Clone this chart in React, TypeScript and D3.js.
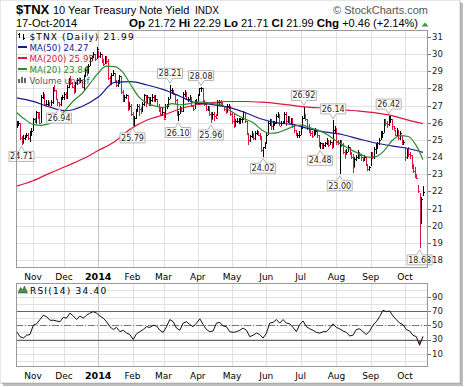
import * as d3 from 'd3';

// daily bars, $TNX (yield x 10), 18-Oct-2013 .. 17-Oct-2014
const high = [
  26.1, 26.1, 26.0, 25.2, 25.3, 25.3, 25.4, 25.4, 25.5, 25.7,
  26.3, 26.3, 26.7, 26.6, 26.6, 27.6, 27.8, 27.7, 27.3, 27.3,
  27.2, 27.3, 28.1, 28.2, 27.9, 27.4, 27.2, 27.5, 27.6, 27.8,
  27.8, 28.2, 28.6, 28.7, 28.4, 28.2, 28.4, 28.6, 28.6, 28.6,
  28.5, 28.8, 29.2, 29.3, 29.4, 29.8, 29.9, 30.1, 30.0, 30.4,
  30.2, 30.1, 30.0, 29.7, 29.9, 29.9, 29.7, 28.7, 28.9, 29.1,
  28.9, 28.5, 28.5, 28.8, 28.7, 27.9, 27.6, 27.7, 27.6, 27.2,
  27.1, 26.6, 26.4, 26.8, 27.1, 27.1, 26.9, 27.2, 27.7, 27.6,
  27.6, 27.5, 27.5, 27.7, 27.6, 27.6, 27.4, 27.1, 26.9, 26.9,
  26.6, 27.1, 27.1, 27.5, 28.21, 28.0, 27.9, 27.7, 27.4, 26.7,
  27.0, 26.9, 27.8, 27.9, 27.8, 27.5, 27.6, 27.5, 27.0, 27.3,
  27.4, 27.7, 28.0, 28.08, 28.0, 27.3, 27.2, 27.0, 27.0, 26.6,
  26.6, 26.6, 26.5, 27.3, 27.3, 27.3, 27.2, 27.0, 26.9, 27.1,
  27.1, 27.0, 26.6, 26.5, 26.2, 26.3, 26.3, 26.3, 26.3, 26.7,
  26.6, 26.1, 25.4, 25.3, 25.5, 25.4, 25.5, 25.6, 25.5, 25.4,
  25.2, 24.6, 24.9, 25.4, 26.1, 26.2, 26.2, 26.1, 26.1, 26.5,
  26.6, 26.5, 26.1, 26.1, 26.6, 26.6, 26.4, 26.4, 26.3, 26.3,
  25.9, 25.6, 25.4, 25.5, 25.8, 26.4, 26.92, 26.5, 26.2, 25.9,
  25.6, 25.5, 25.6, 25.7, 25.5, 25.3, 24.9, 24.8, 24.8, 24.9,
  25.1, 25.0, 25.0, 24.9, 26.14, 25.8, 25.7, 25.0, 25.0, 25.0,
  24.8, 24.4, 24.5, 24.7, 24.6, 24.3, 24.2, 24.0, 24.1, 24.4,
  24.3, 24.2, 24.0, 24.1, 24.0, 23.6, 23.5, 24.3, 24.3, 24.6,
  24.8, 24.9, 25.1, 25.5, 25.5, 26.2, 26.2, 26.1, 26.42, 26.4,
  26.2, 25.8, 25.6, 25.7, 25.6, 25.5, 25.3, 25.0, 24.6, 24.5,
  24.6, 24.3, 24.1, 23.6, 23.4, 23.0, 22.4, 21.9, 21.7, 22.29,
];
const low = [
  25.7, 25.8, 25.0, 24.71, 24.8, 25.0, 25.1, 25.0, 24.9, 25.3,
  25.5, 26.0, 26.0, 26.2, 25.9, 26.0, 27.4, 27.0, 27.0, 27.0,
  26.98, 27.0, 27.1, 27.8, 27.3, 27.0, 26.94, 27.0, 27.3, 27.3,
  27.4, 27.4, 28.0, 28.2, 28.0, 27.7, 27.8, 28.2, 28.3, 28.3,
  28.0, 27.9, 28.7, 28.7, 28.9, 29.3, 29.6, 29.8, 29.6, 29.7,
  29.8, 29.8, 29.5, 29.3, 29.4, 29.4, 28.5, 28.2, 28.2, 28.7,
  28.3, 28.1, 28.1, 28.3, 27.7, 27.2, 27.2, 27.4, 26.7, 26.8,
  26.4, 25.79, 25.8, 26.2, 26.6, 26.4, 26.5, 26.6, 27.0, 26.9,
  27.1, 27.0, 27.0, 27.2, 27.2, 27.2, 26.9, 26.6, 26.4, 26.4,
  26.15, 26.3, 26.8, 27.0, 27.4, 27.7, 27.6, 27.1, 26.4, 26.10,
  26.5, 26.6, 26.6, 27.5, 27.3, 27.2, 27.3, 26.9, 26.7, 26.8,
  27.1, 27.2, 27.6, 27.8, 27.1, 27.0, 26.7, 26.7, 26.4, 25.96,
  26.2, 26.1, 26.2, 26.4, 27.0, 27.0, 26.9, 26.7, 26.5, 26.6,
  26.8, 26.4, 25.9, 25.7, 25.8, 26.0, 25.9, 25.9, 26.0, 26.2,
  26.0, 25.3, 24.7, 24.9, 25.1, 25.0, 25.0, 25.3, 25.2, 25.0,
  24.3, 24.02, 24.5, 24.8, 25.3, 25.8, 25.6, 25.6, 25.8, 25.9,
  26.3, 25.8, 25.8, 25.9, 25.9, 25.8, 26.0, 25.9, 25.9, 25.7,
  25.4, 25.2, 25.1, 25.1, 25.3, 25.7, 26.2, 26.1, 25.6, 25.4,
  25.2, 25.1, 25.2, 25.3, 25.1, 24.6, 24.48, 24.5, 24.5, 24.6,
  24.7, 24.6, 24.7, 24.5, 24.6, 25.4, 24.7, 24.7, 23.00, 24.6,
  24.2, 23.9, 24.2, 24.3, 24.1, 23.9, 23.05, 23.4, 23.8, 23.9,
  23.9, 23.8, 23.7, 23.8, 23.5, 23.2, 23.2, 23.5, 23.9, 23.9,
  24.2, 24.5, 24.7, 25.0, 25.1, 25.4, 25.8, 25.7, 25.8, 26.0,
  25.6, 25.5, 25.2, 25.2, 25.0, 25.0, 24.7, 24.7, 23.8, 23.9,
  24.0, 23.9, 23.3, 23.1, 22.8, 22.7, 21.9, 18.68, 20.1, 21.71,
];
const close = [
  25.9, 26.0, 25.1, 24.8, 25.1, 25.2, 25.3, 25.1, 25.3, 25.5,
  26.2, 26.0, 26.6, 26.4, 26.0, 27.5, 27.7, 27.1, 27.1, 27.2,
  27.0, 27.2, 28.0, 27.9, 27.4, 27.2, 27.1, 27.4, 27.5, 27.7,
  27.5, 28.1, 28.5, 28.3, 28.1, 27.8, 28.3, 28.5, 28.4, 28.5,
  28.1, 28.7, 29.1, 28.9, 29.3, 29.8, 29.9, 30.0, 29.7, 30.3,
  29.9, 30.0, 29.6, 29.4, 29.8, 29.6, 28.6, 28.3, 28.8, 28.9,
  28.4, 28.2, 28.3, 28.7, 27.8, 27.3, 27.5, 27.6, 26.8, 27.0,
  26.5, 25.8, 26.3, 26.7, 27.0, 26.8, 26.7, 27.1, 27.6, 27.3,
  27.5, 27.1, 27.3, 27.5, 27.3, 27.4, 27.0, 26.7, 26.5, 26.6,
  26.2, 27.0, 27.0, 27.4, 27.9, 27.9, 27.7, 27.3, 26.5, 26.5,
  26.9, 26.7, 27.7, 27.8, 27.4, 27.4, 27.5, 27.0, 26.8, 27.2,
  27.2, 27.6, 28.0, 28.0, 27.2, 27.1, 26.8, 26.9, 26.5, 26.2,
  26.5, 26.4, 26.3, 27.2, 27.2, 27.1, 27.0, 26.8, 26.6, 27.0,
  27.0, 26.5, 26.1, 25.8, 26.1, 26.1, 26.1, 26.2, 26.2, 26.6,
  26.1, 25.4, 25.0, 25.2, 25.4, 25.1, 25.4, 25.5, 25.3, 25.2,
  24.4, 24.6, 24.8, 25.3, 26.0, 26.1, 25.8, 25.9, 26.0, 26.4,
  26.5, 25.8, 26.0, 26.0, 26.5, 26.1, 26.3, 26.0, 26.2, 25.8,
  25.6, 25.3, 25.3, 25.3, 25.7, 26.3, 26.5, 26.2, 25.7, 25.5,
  25.4, 25.2, 25.5, 25.5, 25.3, 24.6, 24.8, 24.6, 24.7, 24.8,
  25.0, 24.7, 24.9, 24.6, 25.6, 25.6, 24.9, 24.8, 24.9, 24.7,
  24.3, 24.2, 24.3, 24.6, 24.2, 24.0, 23.4, 23.9, 24.0, 24.3,
  24.1, 24.0, 23.9, 24.0, 23.6, 23.3, 23.4, 24.2, 24.0, 24.5,
  24.6, 24.8, 25.0, 25.4, 25.4, 26.1, 26.0, 25.9, 26.2, 26.2,
  25.8, 25.7, 25.3, 25.6, 25.1, 25.4, 24.8, 24.9, 24.0, 24.3,
  24.2, 24.1, 23.4, 23.2, 22.9, 22.8, 22.0, 21.3, 21.53, 21.99,
];

// moving averages as [bar index, value]
const ma200: [number, number][] = [
  [0, 22.31], [10, 22.62], [20, 23.05], [30, 23.45], [40, 23.87], [50, 24.38],
  [60, 24.9], [70, 25.65], [80, 26.16], [90, 26.45], [100, 26.8], [110, 27.05],
  [120, 27.18], [130, 27.24], [140, 27.24], [150, 27.2], [160, 27.12], [170, 27.0],
  [180, 26.9], [190, 26.85], [200, 26.75], [210, 26.68], [220, 26.58], [230, 26.42],
  [240, 26.15], [249, 25.95],
];
const ma50: [number, number][] = [
  [0, 27.45], [10, 27.25], [20, 26.92], [30, 26.7], [40, 26.95], [50, 27.5],
  [60, 28.35], [70, 28.4], [80, 28.2], [90, 27.93], [100, 27.55], [110, 27.15],
  [120, 27.06], [130, 26.9], [140, 26.6], [150, 26.22], [160, 25.99], [170, 25.89],
  [180, 25.63], [190, 25.45], [200, 25.3], [210, 25.05], [220, 24.82], [230, 24.65],
  [240, 24.5], [249, 24.27],
];
const ma20: [number, number][] = [
  [0, 26.6], [5, 26.2], [10, 25.91], [15, 25.85], [20, 25.95], [25, 26.2],
  [30, 26.75], [35, 27.3], [40, 27.7], [45, 28.3], [50, 28.9], [55, 29.3],
  [60, 29.27], [65, 28.95], [70, 28.2], [75, 27.5], [80, 27.14], [85, 26.97],
  [90, 26.88], [95, 27.12], [100, 27.05], [105, 27.1], [110, 27.2], [115, 27.2],
  [120, 27.12], [125, 27.08], [130, 26.75], [135, 26.45], [140, 26.22], [145, 26.0],
  [150, 25.6], [155, 25.39], [160, 25.43], [165, 25.6], [170, 25.8], [175, 25.86],
  [180, 25.7], [185, 25.56], [190, 25.33], [195, 25.0], [200, 24.7], [205, 24.42],
  [210, 24.2], [215, 24.0], [220, 24.03], [225, 24.35], [230, 24.95], [235, 25.25],
  [240, 25.2], [245, 24.65], [249, 23.85],
];

// RSI(14), evenly spaced from first to last bar
const rsi = [
  41, 34, 32, 36, 37, 50, 52, 58, 64, 62,
  57, 57, 56, 55, 61, 60, 67, 63, 58, 63,
  60, 64, 67, 69, 67, 63, 60, 55, 48, 44,
  47, 41, 43, 39, 37, 30, 38, 41, 44, 48,
  47, 50, 49, 43, 40, 48, 58, 55, 46, 43,
  53, 55, 51, 48, 53, 59, 51, 44, 41, 42,
  53, 54, 49, 48, 41, 40, 41, 43, 46, 43,
  34, 36, 39, 37, 32, 39, 53, 54, 58, 53,
  58, 53, 52, 47, 41, 51, 56, 48, 45, 43,
  40, 39, 41, 41, 46, 52, 47, 45, 42, 40,
  35, 36, 44, 45, 41, 37, 42, 50, 55, 62,
  71, 69, 70, 63, 58, 53, 51, 44, 42, 36,
  34, 22, 34.4,
];

const holidays = [
  '2013-11-11', '2013-11-28', '2013-12-25', '2014-01-01', '2014-01-20', '2014-02-17',
  '2014-04-18', '2014-05-26', '2014-07-04', '2014-09-01', '2014-10-13',
];
const priceTicks = [18, 19, 20, 21, 22, 23, 24, 25, 26, 27, 28, 29, 30, 31];
const rsiGrid = [0, 10, 20, 30, 40, 50, 60, 70, 80, 90, 100];
const rsiTicks = [10, 30, 50, 70, 90];
const calloutHighs = [94, 113, 176, 194, 228];
const calloutLows = [3, 26, 71, 99, 119, 151, 186, 198, 247];

const RED = '#e0143c';
const BLUE = '#1a1a8e';
const GREEN = '#2b8a2b';
const GRID = '#e2e2e2';
const UI = '"DejaVu Sans", Verdana, sans-serif';
const HEAD = '"Liberation Sans", Arial, sans-serif';

const P = { left: 16, right: 428, top: 30, bottom: 268 };
const R = { top: 283, bottom: 367 };

function tradingDays() {
  const off = new Set(holidays);
  const fmt = d3.timeFormat('%Y-%m-%d');
  return d3.timeDay
    .range(new Date(2013, 9, 18), new Date(2014, 9, 18))
    .filter(d => d.getDay() !== 0 && d.getDay() !== 6 && !off.has(fmt(d)));
}

export default function App() {
  const days = tradingDays();
  const n = close.length;

  const x = d3.scaleLinear().domain([-0.4, n + 2.1]).range([P.left, P.right]);
  const y = d3.scaleLinear().domain([18, 31]).range([260, 37]);
  const yr = d3.scaleLinear().domain([0, 100]).range([360.9, 289.6]);
  const xr = d3.scaleLinear().domain([0, rsi.length - 1]).range([x(0), x(n - 1)]);
  const px = (i: number) => Math.round(x(i)) + 0.5;

  const monthTicks = days
    .map((d, i) => ({ d, i }))
    .filter(({ d, i }) => i > 0 && d.getMonth() !== days[i - 1].getMonth())
    .map(({ d, i }) => ({ i, label: d.getMonth() === 0 ? d3.timeFormat('%Y')(d) : d3.timeFormat('%b')(d), bold: d.getMonth() === 0 }));

  const maLine = d3.line<[number, number]>().x(d => x(d[0])).y(d => y(d[1])).curve(d3.curveMonotoneX);
  const rsiLine = d3.line<number>().x((_, k) => xr(k)).y(d => yr(d));
  const rsiArea = d3.area<number>().x((_, k) => xr(k)).y0(yr(30)).y1(d => yr(d));

  const callout = (i: number, kind: 'hi' | 'lo') => {
    const cx = x(i);
    const w = 25, h = 10;
    const l = cx - w / 2, r = cx + w / 2;
    if (kind === 'lo') {
      const ty = y(low[i]) + 1.5;
      const bt = ty + 5;
      return {
        d: `M${l},${bt}H${cx - 3}L${cx},${ty}L${cx + 3},${bt}H${r}V${bt + h}H${l}Z`,
        tx: cx, ty: bt + 8, text: low[i].toFixed(2),
      };
    }
    const ty = y(high[i]) - 1.5;
    const bb = ty - 5;
    return {
      d: `M${l},${bb - h}H${r}V${bb}H${cx + 3}L${cx},${ty}L${cx - 3},${bb}H${l}Z`,
      tx: cx, ty: bb - 2, text: high[i].toFixed(2),
    };
  };
  const callouts = [
    ...calloutHighs.map(i => callout(i, 'hi')),
    ...calloutLows.map(i => callout(i, 'lo')),
  ];

  const legend = [
    { label: 'MA(50) 24.27', color: BLUE, yb: 50.5 },
    { label: 'MA(200) 25.95', color: RED, yb: 61.5 },
    { label: 'MA(20) 23.84', color: GREEN, yb: 72.5 },
  ];

  return (
    <svg width={464} height={387} style={{ position: 'absolute', left: 0, top: 0 }}>
      <defs>
        <clipPath id="pc"><rect x={P.left} y={P.top} width={P.right - P.left} height={P.bottom - P.top} /></clipPath>
        <clipPath id="ob"><rect x={P.left} y={yr(30)} width={P.right - P.left} height={R.bottom - yr(30)} /></clipPath>
      </defs>
      {/* frame + shadow */}
      <rect x={3} y={3} width={460} height={383} fill="#bdbdbd" />
      <rect x={2} y={2} width={459} height={382} fill="#8c8c8c" />
      <rect x={0} y={0} width={460} height={383} fill="#fff" stroke="#cfcfcf" />

      {/* header */}
      <text x={16} y={14} fontFamily={HEAD} fontWeight="bold" fontSize={13}>$TNX</text>
      <text x={53} y={14} fontFamily={HEAD} fontSize={11}>10 Year Treasury Note Yield</text>
      <text x={195} y={14} fontFamily={HEAD} fontSize={10}>INDX</text>
      <text x={428} y={14} fontFamily={HEAD} fontSize={11} fill="#555" textAnchor="end">© StockCharts.com</text>
      <text x={16} y={26.5} fontFamily={HEAD} fontSize={11}>17-Oct-2014</text>
      <text x={418} y={26.5} fontFamily={HEAD} fontSize={11} textAnchor="end">
        <tspan fontWeight="bold" fontSize={11.5}>Op</tspan> 21.72{' '}
        <tspan fontWeight="bold" fontSize={11.5}>Hi</tspan> 22.29{' '}
        <tspan fontWeight="bold" fontSize={11.5}>Lo</tspan> 21.71{' '}
        <tspan fontWeight="bold" fontSize={11.5}>Cl</tspan> 21.99{' '}
        <tspan fontWeight="bold" fontSize={11.5}>Chg</tspan> +0.46 (+2.14%)
      </text>
      <path d="M421.5,26.5L425,22.5L428.5,26.5Z" fill="#3c9a3c" />

      {/* price panel */}
      <rect x={P.left} y={P.top} width={P.right - P.left} height={P.bottom - P.top} fill="#fff" />
      {priceTicks.map(t => (
        <line key={t} x1={P.left} x2={P.right} y1={Math.round(y(t)) + 0.5} y2={Math.round(y(t)) + 0.5} stroke={GRID} />
      ))}
      {monthTicks.map(m => (
        <g key={m.i}>
          <line x1={px(m.i)} x2={px(m.i)} y1={P.top} y2={P.bottom} stroke={m.bold ? '#c4c4c4' : GRID} />
          <line x1={px(m.i)} x2={px(m.i)} y1={R.top} y2={R.bottom} stroke={m.bold ? '#c4c4c4' : GRID} />
        </g>
      ))}
      <g clipPath="url(#pc)" shapeRendering="crispEdges">
        {close.map((c, i) => {
          const col = i > 0 && c < close[i - 1] ? RED : '#000';
          const xi = px(i);
          const yc = Math.round(y(c)) + 0.5;
          return (
            <g key={i} stroke={col}>
              <line x1={xi} x2={xi} y1={y(high[i])} y2={y(low[i])} />
              <line x1={xi} x2={xi + 1.5} y1={yc} y2={yc} />
            </g>
          );
        })}
      </g>
      <g clipPath="url(#pc)" fill="none" strokeWidth={1.2}>
        <path d={maLine(ma200) ?? ''} stroke={RED} />
        <path d={maLine(ma50) ?? ''} stroke={BLUE} />
        <path d={maLine(ma20) ?? ''} stroke={GREEN} />
      </g>
      {callouts.map((c, k) => (
        <g key={k}>
          <path d={c.d} fill="#fff" stroke="#b4b4b4" />
          <text x={c.tx} y={c.ty} textAnchor="middle" fontFamily={UI} fontSize={8} fill="#222">{c.text}</text>
        </g>
      ))}
      <rect x={P.left + 0.5} y={P.top + 0.5} width={P.right - P.left - 1} height={P.bottom - P.top - 1} fill="none" stroke="#9a9a9a" />
      {priceTicks.map(t => (
        <g key={t}>
          <line x1={P.right} x2={P.right + 3} y1={Math.round(y(t)) + 0.5} y2={Math.round(y(t)) + 0.5} stroke="#777" />
          <text x={P.right + 4} y={y(t)} dy="0.35em" fontFamily={UI} fontSize={8.5} fill="#222">{t}</text>
        </g>
      ))}

      {/* price legend */}
      <g stroke="#000" shapeRendering="crispEdges">
        <line x1={19.5} x2={19.5} y1={33} y2={38} />
        <line x1={18} x2={19.5} y1={34.5} y2={34.5} />
        <line x1={23.5} x2={23.5} y1={34} y2={40} />
        <line x1={23.5} x2={25} y1={38.5} y2={38.5} />
      </g>
      <text x={29.5} y={39.5} fontFamily={UI} fontSize={9} letterSpacing={1.1}>$TNX (Daily) 21.99</text>
      {legend.map(l => (
        <g key={l.label}>
          <line x1={18} x2={27} y1={l.yb - 3.5} y2={l.yb - 3.5} stroke={l.color} strokeWidth={2} />
          <text x={29.5} y={l.yb} fontFamily={UI} fontSize={8.7} fill={l.color}>{l.label}</text>
        </g>
      ))}
      <g fill="#666">
        <rect x={18} y={79} width={2} height={4} />
        <rect x={21} y={77} width={2} height={6} />
        <rect x={24} y={78} width={2} height={5} />
      </g>
      <text x={29.5} y={83.5} fontFamily={UI} fontSize={8.7} fill="#555">Volume undef</text>

      {/* month labels */}
      {monthTicks.map(m => (
        <g key={m.i}>
          <text x={x(m.i)} y={279.5} textAnchor="middle" fontFamily={UI} fontSize={m.bold ? 9.5 : 9} fontWeight={m.bold ? 'bold' : 'normal'}>{m.label}</text>
          <text x={x(m.i)} y={378.5} textAnchor="middle" fontFamily={UI} fontSize={m.bold ? 9.5 : 9} fontWeight={m.bold ? 'bold' : 'normal'}>{m.label}</text>
        </g>
      ))}

      {/* RSI panel */}
      {rsiGrid.map(t => (
        <line key={t} x1={P.left} x2={P.right} y1={Math.round(yr(t)) + 0.5} y2={Math.round(yr(t)) + 0.5} stroke={GRID} />
      ))}
      <line x1={P.left} x2={P.right} y1={Math.round(yr(70)) + 0.5} y2={Math.round(yr(70)) + 0.5} stroke="#666" />
      <line x1={P.left} x2={P.right} y1={Math.round(yr(30)) + 0.5} y2={Math.round(yr(30)) + 0.5} stroke="#666" />
      <line x1={P.left} x2={P.right} y1={Math.round(yr(50)) + 0.5} y2={Math.round(yr(50)) + 0.5} stroke="#777" strokeDasharray="7,2,1,2" />
      <path d={rsiArea(rsi) ?? ''} fill="#a34a4a" clipPath="url(#ob)" />
      <path d={rsiLine(rsi) ?? ''} fill="none" stroke="#111" strokeWidth={1} />
      <rect x={P.left + 0.5} y={R.top + 0.5} width={P.right - P.left - 1} height={R.bottom - R.top - 1} fill="none" stroke="#9a9a9a" />
      {rsiTicks.map(t => (
        <g key={t}>
          <line x1={P.right} x2={P.right + 3} y1={Math.round(yr(t)) + 0.5} y2={Math.round(yr(t)) + 0.5} stroke="#777" />
          <text x={P.right + 4} y={yr(t)} dy="0.35em" fontFamily={UI} fontSize={8.5} fill="#222">{t}</text>
        </g>
      ))}
      <path d="M18,293L20.5,287.5L22.5,290L24.5,286L27.5,293Z" fill="#4f8a4f" stroke="#2f5f2f" strokeWidth={0.6} />
      <text x={30} y={293.5} fontFamily={UI} fontSize={9} letterSpacing={1.2}>RSI(14) 34.40</text>
    </svg>
  );
}
